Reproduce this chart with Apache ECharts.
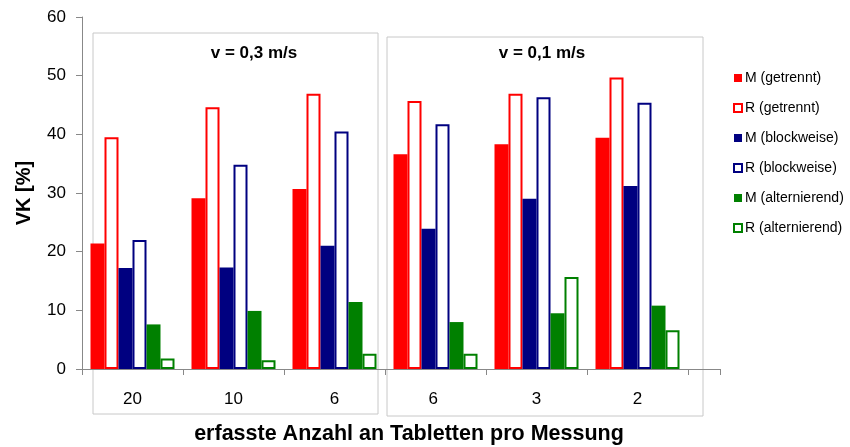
<!DOCTYPE html>
<html>
<head>
<meta charset="utf-8">
<script src="https://cdn.jsdelivr.net/npm/echarts@6/dist/echarts.min.js"></script>
<style>
  html, body { margin: 0; padding: 0; background: #fff; }
  #chart { width: 850px; height: 447px; }
</style>
</head>
<body>
<div id="chart"></div>
<script>
var categories = ['20', '10', '6', '6 ', '3', '2'];
var seriesNames = ['M (getrennt)', 'R (getrennt)', 'M (blockweise)', 'R (blockweise)', 'M (alternierend)', 'R (alternierend)'];
var mGetrennt = [21.4, 29.1, 30.7, 36.6, 38.3, 39.4];
var rGetrennt = [39.5, 44.6, 46.9, 45.7, 46.9, 49.7];
var mBlock = [17.2, 17.3, 21.0, 23.9, 29.0, 31.2];
var rBlock = [22.0, 34.8, 40.5, 41.7, 46.3, 45.4];
var mAlt = [7.6, 9.9, 11.4, 8.0, 9.5, 10.8];
var rAlt = [1.8, 1.5, 2.6, 2.6, 15.7, 6.6];
var groupTitles = ['v = 0,3 m/s', 'v = 0,1 m/s'];

var chart = echarts.init(document.getElementById('chart'));
var font = 'Liberation Sans, Arial, sans-serif';

function filled(name, data, color) {
    return { name: name, type: 'bar', data: data, barWidth: 14, barGap: '0%',
        itemStyle: { color: color }, animation: false };
}
function hollow(name, data, color) {
    return { name: name, type: 'bar', data: data, barWidth: 14, barGap: '0%',
        itemStyle: { color: '#fff', borderColor: color, borderWidth: 2 }, animation: false };
}

var option = {
    backgroundColor: '#fff',
    textStyle: { fontFamily: font },
    title: [
        { text: groupTitles[0], left: 249, top: 40, textAlign: 'center',
          textStyle: { fontSize: 17, fontWeight: 'bold', color: '#000', fontFamily: font } },
        { text: groupTitles[1], left: 537, top: 40, textAlign: 'center',
          textStyle: { fontSize: 17, fontWeight: 'bold', color: '#000', fontFamily: font } }
    ],
    legend: {
        orient: 'vertical', left: 728, top: 66,
        icon: 'rect', itemWidth: 8, itemHeight: 8, itemGap: 16,
        textStyle: { fontSize: 14, color: '#000', fontFamily: font, padding: [0, 0, 0, -2] },
        data: seriesNames
    },
    grid: { left: 82, top: 17, right: 162, bottom: 78, outerBoundsMode: 'none', containLabel: false },
    xAxis: {
        type: 'category', data: categories,
        name: 'erfasste Anzahl an Tabletten pro Messung', nameLocation: 'middle', nameGap: 54,
        nameTextStyle: { fontSize: 21.5, fontWeight: 'bold', color: '#000', padding: [0, 0, 0, 48] },
        axisLine: { show: true, lineStyle: { color: '#888' } },
        axisTick: { show: true, inside: false, length: 6, lineStyle: { color: '#888' } },
        axisLabel: { fontSize: 17, color: '#000', margin: 22 }
    },
    yAxis: {
        type: 'value', min: 0, max: 60, interval: 10,
        name: 'VK [%]', nameLocation: 'middle', nameGap: 48,
        nameTextStyle: { fontSize: 20, fontWeight: 'bold', color: '#000' },
        axisLine: { show: true, lineStyle: { color: '#888' } },
        axisTick: { show: true, inside: false, length: 6, lineStyle: { color: '#888' } },
        splitLine: { show: false },
        axisLabel: { fontSize: 17, color: '#000', margin: 16 }
    },
    graphic: [
        { type: 'rect', shape: { x: 93, y: 33, width: 285, height: 381 }, z: -1,
          style: { fill: 'none', stroke: '#c8c8c8', lineWidth: 1 } },
        { type: 'rect', shape: { x: 387, y: 37, width: 316, height: 379 }, z: -1,
          style: { fill: 'none', stroke: '#c8c8c8', lineWidth: 1 } },
        { type: 'line', shape: { x1: 688, y1: 369.5, x2: 720, y2: 369.5 },
          style: { stroke: '#888', lineWidth: 1 } },
        { type: 'line', shape: { x1: 720.5, y1: 369, x2: 720.5, y2: 375 },
          style: { stroke: '#888', lineWidth: 1 } }
    ],
    series: [
        filled(seriesNames[0], mGetrennt, '#ff0000'),
        hollow(seriesNames[1], rGetrennt, '#ff0000'),
        filled(seriesNames[2], mBlock, '#000080'),
        hollow(seriesNames[3], rBlock, '#000080'),
        filled(seriesNames[4], mAlt, '#008000'),
        hollow(seriesNames[5], rAlt, '#008000')
    ]
};

chart.setOption(option);
</script>
</body>
</html>
